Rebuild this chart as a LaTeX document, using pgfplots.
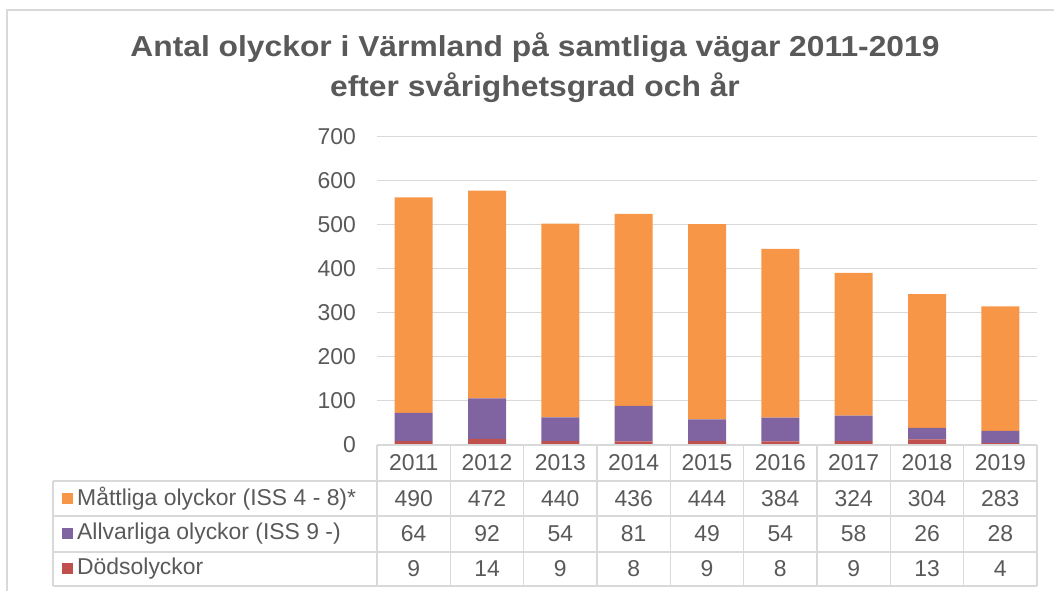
\documentclass[border=0pt]{standalone}
\usepackage{fontspec}
\setmainfont{Liberation Sans}
\newfontfamily\titlefont{Liberation Sans}[FakeStretch=1.1]
\usepackage{pgfplots}
\pgfplotsset{compat=1.18}
\definecolor{orng}{HTML}{F79646}
\definecolor{purp}{HTML}{8064A2}
\definecolor{redd}{HTML}{C0504D}
\definecolor{grd}{HTML}{D9D9D9}
\definecolor{txt}{HTML}{595959}
\begin{document}
\begin{tikzpicture}[x=1bp,y=1bp]
\path[use as bounding box] (0,0) rectangle (1054,591);
\draw[grd, line width=1.5bp] (7,0) -- (7,581) -- (1054,581);
\node[txt, font=\titlefont\fontsize{29}{40}\bfseries\selectfont, align=center] at (535,523) {Antal olyckor i Värmland på samtliga vägar 2011-2019\\efter svårighetsgrad och år};
\begin{axis}[
  at={(377bp,146bp)}, anchor=south west,
  scale only axis, width=660bp, height=308bp,
  xmin=-0.5, xmax=8.5, ymin=0, ymax=700,
  ybar stacked, bar width=38bp,
  ytick={0,100,...,700}, xtick=\empty,
  ymajorgrids, grid style={grd, line width=1bp},
  axis line style={draw=none}, major tick length=0pt,
  /pgf/number format/assume math mode=true,
  tick label style={font=\fontsize{23}{27}\selectfont, text=txt, inner sep=0pt},
  yticklabel style={anchor=east, xshift=-21bp},
  clip=false,
]
\addplot[fill=redd, draw=none] coordinates {(0,9) (1,14) (2,9) (3,8) (4,9) (5,8) (6,9) (7,13) (8,4)};
\addplot[fill=purp, draw=none] coordinates {(0,64) (1,92) (2,54) (3,81) (4,49) (5,54) (6,58) (7,26) (8,28)};
\addplot[fill=orng, draw=none] coordinates {(0,490) (1,472) (2,440) (3,436) (4,444) (5,384) (6,324) (7,304) (8,283)};
\end{axis}
% data table
\begin{scope}[grd, line width=1.5bp]
\draw (377,146) -- (1037,146);
\foreach \y in {110,75,39,5} {\draw (53,\y) -- (1037,\y);}
\draw (53,110) -- (53,5);
\foreach \i in {0,...,9} {\draw ({377+73.333*\i},146) -- ({377+73.333*\i},5);}
\end{scope}
\begin{scope}[txt, font=\fontsize{23}{27}\selectfont]
\foreach \i/\yr/\a/\b/\c in {0/2011/490/64/9, 1/2012/472/92/14, 2/2013/440/54/9, 3/2014/436/81/8, 4/2015/444/49/9, 5/2016/384/54/8, 6/2017/324/58/9, 7/2018/304/26/13, 8/2019/283/28/4} {
  \node at ({377+73.333*\i+36.667},128) {\yr};
  \node at ({377+73.333*\i+36.667},92.5) {\a};
  \node at ({377+73.333*\i+36.667},57) {\b};
  \node at ({377+73.333*\i+36.667},22) {\c};
}
\fill[orng] (61.5,87) rectangle (72.5,98);
\fill[purp] (61.5,51.5) rectangle (72.5,62.5);
\fill[redd] (61.5,16.5) rectangle (72.5,27.5);
\node[anchor=west, inner sep=0pt] at (77,92.5) {Måttliga olyckor (ISS 4 - 8)*};
\node[anchor=west, inner sep=0pt] at (77,57) {Allvarliga olyckor (ISS 9 -)};
\node[anchor=west, inner sep=0pt] at (77,22) {Dödsolyckor};
\end{scope}
\end{tikzpicture}
\end{document}
